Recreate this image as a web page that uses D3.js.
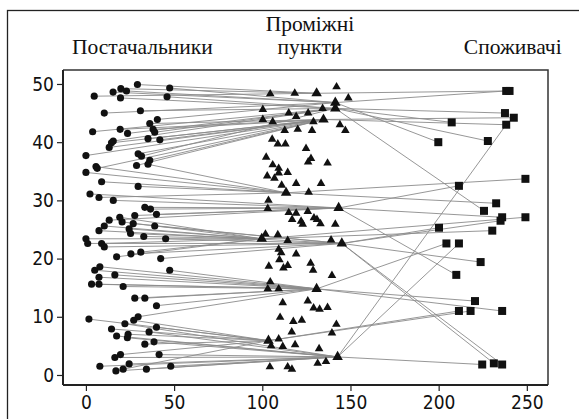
<!DOCTYPE html>
<html>
<head>
<meta charset="utf-8">
<script src="https://cdn.jsdelivr.net/npm/d3@7"></script>
<style>
  html, body { margin: 0; padding: 0; background: #fff; }
  svg { display: block; }
</style>
</head>
<body>
<svg id="chart" width="579" height="419"></svg>
<script>
// Suppliers (circles): position and the transit hub each one ships to
const supplierX = [29.2,19.8,23.0,15.4,4.7,19.6,47.5,46.0,10.4,30.9,36.2,40.5,3.8,19.4,23.6,38.1,39.0,41.9,35.2,15.5,14.5,13.2,0.0,29.6,31.5,36.2,35.2,
  5.7,6.4,0.0,28.7,8.9,29.6,2.3,7.4,15.5,33.4,36.6,40.0,27.7,19.2,13.2,20.5,26.8,10.4,39.0,24.5,7.4,25.3,0.0,1.0,32.8,45.2,8.9,10.4,17.4,25.5,31.1,42.4,
  7.9,5.0,7.4,3.2,7.4,16.4,21.1,47.5,27.7,33.4,40.0,
  1.7,29.6,27.1,22.1,14.5,17.4,23.9,23.5,35.8,40.0,38.6,33.4,16.4,19.6,41.5,7.9,17.0,21.1,24.5,34.3,48.1];
const supplierY = [49.9,49.2,48.8,48.6,47.9,47.6,49.3,47.8,45.0,45.4,43.2,43.9,41.8,42.2,41.5,42.2,41.7,40.4,40.6,40.2,39.9,39.1,37.7,38.0,37.6,36.9,36.2,
  35.8,35.5,34.8,36.0,33.2,32.4,31.1,30.5,30.0,28.8,28.5,27.6,27.4,27.1,26.6,26.3,26.0,25.6,25.6,25.1,24.8,24.3,23.4,22.6,23.8,23.4,22.6,22.0,20.3,20.8,21.1,20.0,
  18.6,18.0,16.8,15.6,15.6,17.2,15.2,18.0,13.2,13.2,11.9,
  9.6,10.0,9.4,8.8,7.9,6.7,7.0,6.4,7.4,8.2,5.7,5.3,3.0,3.5,3.5,1.5,0.7,1.0,1.9,1.0,1.5];
const supplierHub = [0,0,1,1,0,2,1,2,1,2,3,1,2,3,2,3,2,3,3,2,3,3,3,3,2,3,4,
  4,3,4,3,4,4,5,4,5,5,5,5,5,6,5,6,7,6,7,6,7,6,6,7,6,7,6,7,6,7,6,7,
  8,8,8,8,8,8,8,8,8,8,8,
  9,8,9,10,9,10,9,10,10,9,10,9,10,9,10,10,10,9,10,10,10];

// Transit hubs (triangles that carry flows)
const hubX = [130.8,141.4,141.4,134.7,113.5,143.3,99.7,145.1,130.8,103.5,142.7];
const hubY = [48.4,46.8,45.8,43.9,31.3,28.7,23.4,22.6,14.8,5.9,3.1];

// Other intermediate points (triangles)
const pointX = [104.5,118.4,142.1,148.8,100.3,115.0,119.2,126.0,134.2,100.3,105.9,129.0,144.0,147.1,112.7,120.1,128.2,105.6,108.8,113.1,124.8,102.2,105.9,109.3,126.0,127.6,137.0,
  102.8,106.9,109.3,114.4,111.0,119.2,133.3,126.3,103.5,103.1,115.0,119.2,125.8,116.9,122.0,122.9,129.3,131.0,133.0,141.4,101.8,108.8,114.4,139.0,109.3,110.7,119.2,109.7,
  103.7,112.0,114.4,127.4,128.8,139.5,104.5,103.1,109.3,111.6,125.8,129.1,132.5,137.0,110.1,117.6,122.4,142.0,116.7,139.5,109.3,105.0,111.6,118.6,132.2,131.4,136.1,104.3,114.4,116.8];
const pointY = [48.3,48.4,49.5,47.6,45.6,45.0,44.4,45.0,45.8,43.9,43.5,43.5,43.0,42.0,42.0,42.2,42.0,40.5,39.7,39.7,38.9,37.4,36.1,35.5,36.6,37.2,36.4,
  34.2,33.8,34.7,34.8,32.6,32.9,32.9,31.4,30.0,28.6,27.9,27.8,28.1,26.7,26.4,25.9,27.0,26.7,26.0,25.9,24.2,24.1,23.1,23.2,21.6,21.0,20.8,19.8,
  18.7,18.4,18.8,19.2,18.0,17.1,16.0,14.8,14.8,12.4,12.7,11.5,11.3,11.6,9.9,9.2,9.4,8.7,7.4,7.2,6.2,5.0,4.9,5.2,4.5,2.0,2.3,1.4,1.4,1.0];

// Consumers (squares)
const consumerX = [238.3,240.2,237.6,242.6,207.4,238.3,227.9,199.8,249.2,211.5,232.6,225.7,236.0,235.1,249.2,200.2,230.4,204.4,211.5,223.8,210.0,220.6,211.5,218.1,236.0,224.7,231.3,236.0];
const consumerY = [48.8,48.8,45.0,44.2,43.4,43.0,40.2,40.0,33.7,32.5,29.5,28.2,27.1,26.5,27.1,25.3,24.8,22.6,22.6,19.4,17.2,12.7,11.0,11.0,11.0,1.8,2.0,1.8];

// Deliveries hub -> consumer
const routeHub      = [1,0,2,3,2,3,10,2,1,4,5,4,2,5,7,6,7,6,8,10,7,5,8,9,9,8,10,7,7];
const routeConsumer = [0,1,2,3,4,5,5,6,7,8,9,10,11,12,13,14,15,16,17,18,19,20,21,22,23,24,25,26,27];

// Axis ticks and column headings (centre given in data units)
const xTicks = [0,50,100,150,200,250];
const yTicks = [0,10,20,30,40,50];
const headings = [
  {lines: ["Постачальники"], x: 32},
  {lines: ["Проміжні", "пункти"], x: 127},
  {lines: ["Споживачі"], x: 242}
];

const svg = d3.select("#chart");
const W = 579, H = 419;
const box = {left: 63, right: 548, top: 70, bottom: 385};

const x = d3.scaleLinear().domain([-13, 262]).range([box.left, box.right]);
const y = d3.scaleLinear().domain([-1.72, 52.4]).range([box.bottom, box.top]);

svg.append("rect").attr("width", W).attr("height", H).attr("fill", "#fff");

// outer figure frame (runs off the right and bottom of the sheet)
svg.append("rect")
  .attr("x", 7.5).attr("y", 10.5)
  .attr("width", 600).attr("height", 420)
  .attr("fill", "none").attr("stroke", "#222").attr("stroke-width", 1.3);

// column headings, bottom line on a shared baseline
const headG = svg.append("g")
  .attr("font-family", "'Liberation Serif', 'Times New Roman', serif")
  .attr("font-size", 21.5).attr("fill", "#111").attr("text-anchor", "middle");
const baseLine = 54, lineGap = 23;
headings.forEach(h => {
  const n = h.lines.length;
  h.lines.forEach((line, i) => {
    headG.append("text")
      .attr("x", x(h.x))
      .attr("y", baseLine - (n - 1 - i) * lineGap)
      .text(line);
  });
});

// links supplier -> hub
const linkG = svg.append("g").attr("stroke", "#8c8c8c").attr("stroke-width", 1).attr("fill", "none").attr("stroke-opacity", 0.9);
supplierX.forEach((sx, i) => {
  const h = supplierHub[i];
  linkG.append("line")
    .attr("x1", x(sx)).attr("y1", y(supplierY[i]))
    .attr("x2", x(hubX[h])).attr("y2", y(hubY[h]));
});
// links hub -> consumer
routeHub.forEach((h, k) => {
  const c = routeConsumer[k];
  linkG.append("line")
    .attr("x1", x(hubX[h])).attr("y1", y(hubY[h]))
    .attr("x2", x(consumerX[c])).attr("y2", y(consumerY[c]));
});

// markers
const markG = svg.append("g").attr("fill", "#111");
const circleSym = d3.symbol().type(d3.symbolCircle).size(40);
const triSym = d3.symbol().type(d3.symbolTriangle).size(32);
const hubSym = d3.symbol().type(d3.symbolTriangle).size(48);
const sqSym = d3.symbol().type(d3.symbolSquare).size(64);

supplierX.forEach((sx, i) => {
  markG.append("path").attr("d", circleSym).attr("transform", `translate(${x(sx)},${y(supplierY[i])})`);
});
pointX.forEach((px, i) => {
  markG.append("path").attr("d", triSym).attr("transform", `translate(${x(px)},${y(pointY[i])})`);
});
hubX.forEach((hx, i) => {
  markG.append("path").attr("d", hubSym).attr("transform", `translate(${x(hx)},${y(hubY[i])})`);
});
consumerX.forEach((cx, i) => {
  markG.append("path").attr("d", sqSym).attr("transform", `translate(${x(cx)},${y(consumerY[i])})`);
});

// plot frame (top and right)
svg.append("path")
  .attr("d", `M${box.left},${box.top}H${box.right}V${box.bottom}`)
  .attr("fill", "none").attr("stroke", "#333").attr("stroke-width", 1.5);

// axes
const tickFont = "'Liberation Sans Narrow', 'Arial Narrow', 'DejaVu Sans Condensed', sans-serif";
const xAxis = svg.append("g")
  .attr("transform", `translate(0,${box.bottom})`)
  .call(d3.axisBottom(x).tickValues(xTicks).tickSize(6).tickPadding(5).tickSizeOuter(0));
const yAxis = svg.append("g")
  .attr("transform", `translate(${box.left},0)`)
  .call(d3.axisLeft(y).tickValues(yTicks).tickSize(6).tickPadding(3).tickSizeOuter(0));
[xAxis, yAxis].forEach(a => {
  a.select(".domain").attr("stroke", "#222").attr("stroke-width", 2);
  a.selectAll(".tick line").attr("stroke", "#222").attr("stroke-width", 1.2);
  a.selectAll(".tick text").attr("font-family", tickFont).attr("font-size", 19).attr("fill", "#111");
});
// axis lines reach the frame corners
xAxis.select(".domain").attr("d", `M${box.left},0H${box.right}`);
yAxis.select(".domain").attr("d", `M0,${box.top}V${box.bottom}`);
</script>
</body>
</html>
